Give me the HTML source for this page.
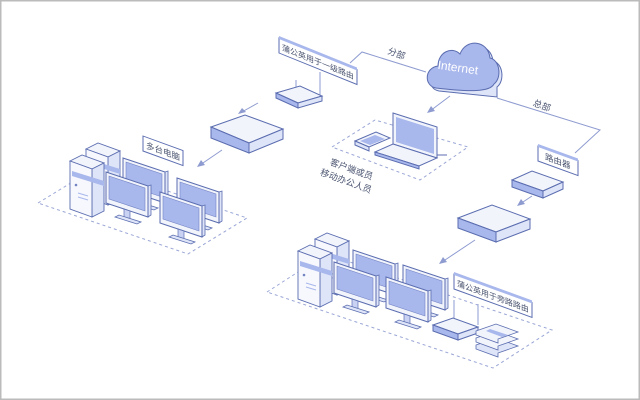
<!DOCTYPE html>
<html><head><meta charset="utf-8"><style>
html,body{margin:0;padding:0;background:#fff}
svg{display:block}
text{font-family:"Liberation Sans","Noto Sans CJK SC",sans-serif;fill:#4a5470}
</style></head><body>
<svg width="640" height="400" viewBox="0 0 640 400" xmlns="http://www.w3.org/2000/svg">
<defs>
<g id="mon">
<polygon points="42,14 45,13 45,43 42,45" fill="#dfe5f8" stroke="#5b6db0" stroke-width="0.8"/>
<polygon points="0,0 42,14 42,45 0,31" fill="#f2f4fc" stroke="#5b6db0" stroke-width="1"/>
<polygon points="3,4 39,16 39,39 3,27" fill="#a8b7ec" stroke="#7384c4" stroke-width="0.6"/>
<polygon points="18,37 24,39 24,48 18,46" fill="#c9d2f3" stroke="#5b6db0" stroke-width="0.7"/>
<polygon points="9,45 31,52 35,50 13,43" fill="#dfe5f8" stroke="#5b6db0" stroke-width="0.8"/>
</g>
<g id="srv">
<polygon points="0,8 12,2 34,10 22,16" fill="#f2f4fc" stroke="#5b6db0" stroke-width="0.9"/>
<polygon points="22,16 34,10 34,58 22,64" fill="#dfe5f8" stroke="#5b6db0" stroke-width="0.9"/>
<polygon points="0,8 22,16 22,64 0,56" fill="#f7f8fd" stroke="#5b6db0" stroke-width="0.9"/>
<polygon points="2,18 34,28 34,33 2,23" fill="#a8b7ec"/>
<circle cx="6" cy="32" r="1.3" fill="#7384c4"/>
<line x1="8" y1="40" x2="18" y2="43" stroke="#a8b7ec"/>
<line x1="8" y1="44" x2="18" y2="47" stroke="#a8b7ec"/>
</g>
</defs>
<rect x="0.5" y="0.5" width="639" height="399" fill="#fff" stroke="#bbbbbb" stroke-width="2"/>

<g stroke="#8e9bd0" stroke-width="1" fill="none">
<polyline points="350,63 362,52 426,72"/>
<polyline points="497,98 600,130 575,153"/>
<line x1="296" y1="80" x2="296" y2="92"/>
<line x1="320" y1="72" x2="320" y2="98"/>
<line x1="258" y1="103" x2="240" y2="113"/>
<line x1="222" y1="150" x2="200" y2="165"/>
<line x1="450" y1="96" x2="430" y2="111"/>
<line x1="532" y1="196" x2="520" y2="204"/>
<line x1="475" y1="240" x2="442" y2="262"/>
<line x1="454" y1="300" x2="454" y2="320"/>
<line x1="478" y1="304" x2="478" y2="325"/>
</g>
<g fill="#8e9bd0">
<polygon points="238,114 246,112 242,108"/>
<polygon points="197,167 205,165 201,160"/>
<polygon points="427,113 435,111 431,106"/>
<polygon points="517,206 525,204 521,199"/>
<polygon points="439,264 447,262 443,257"/>
</g>

<g fill="none" stroke="#9aa6d6" stroke-dasharray="3,3" stroke-width="1">
<polygon points="38,203 97,167 247,218 188,254"/>
<polygon points="332,147 375,120 468,147 420,180"/>
<polygon points="267,292 326,254 552,330 493,368"/>
</g>

<g>
<path d="M436,88 C424,86 424,68 438,66 C438,52 452,46 460,54 C466,38 488,40 490,58 C500,60 502,78 494,84 L494,94 Z" fill="#dfe5f8" stroke="#5b6db0" transform="translate(3,3)"/>
<path d="M436,88 C424,86 424,68 438,66 C438,52 452,46 460,54 C466,38 488,40 490,58 C500,60 502,78 494,84 C490,92 470,92 436,88 Z" fill="#a8b7ec" stroke="#5b6db0"/>
<text x="437" y="72" font-size="12" style="fill:#fff" transform="rotate(8 460 72)">Internet</text>
</g>

<polygon points="276,93 300,86 322,96 298,103" fill="#f2f4fc" stroke="#5b6db0"/>
<polygon points="276,93 298,103 298,108 276,98" fill="#a8b7ec" stroke="#5b6db0"/>
<polygon points="298,103 322,96 322,101 298,108" fill="#dfe5f8" stroke="#5b6db0"/>

<g transform="translate(279,38) skewY(22)">
<rect x="0" y="0" width="78" height="15" fill="#fff" stroke="#5b6db0"/>
<rect x="0" y="-2" width="78" height="3" fill="#a8b7ec"/>
<text x="3" y="11" font-size="8">蒲公英用于一级路由</text>
</g>
<text x="388" y="56" font-size="9" transform="rotate(20 395 52)">分部</text>
<text x="533" y="108" font-size="9" transform="rotate(20 540 105)">总部</text>

<polygon points="211,127 245,115 283,129 249,143" fill="#f2f4fc" stroke="#5b6db0"/>
<polygon points="211,127 249,143 249,153 211,138" fill="#a8b7ec" stroke="#5b6db0"/>
<polygon points="249,143 283,129 283,139 249,153" fill="#dfe5f8" stroke="#5b6db0"/>

<use href="#srv" x="86" y="141"/>
<use href="#srv" x="70" y="153"/>
<use href="#mon" x="123" y="158"/>
<use href="#mon" x="106" y="172"/>
<use href="#mon" x="177" y="178"/>
<use href="#mon" x="160" y="192"/>
<g transform="translate(143,136) skewY(20)">
<rect x="0" y="0" width="40" height="15" fill="#fff" stroke="#5b6db0"/>
<text x="3" y="11" font-size="8.5">多台电脑</text>
</g>

<polygon points="355,141 376,132 390,138 369,147" fill="#f2f4fc" stroke="#5b6db0"/>
<polygon points="360,141 375,135 385,139 370,145" fill="#a8b7ec"/>
<polygon points="355,141 369,147 369,151 355,145" fill="#dfe5f8" stroke="#5b6db0"/>
<polygon points="393,113 437,127 437,158 393,144" fill="#f2f4fc" stroke="#5b6db0"/>
<polygon points="396,117 434,129 434,154 396,142" fill="#a8b7ec"/>
<polygon points="375,152 393,144 437,158 419,166" fill="#f2f4fc" stroke="#5b6db0"/>
<polygon points="375,152 419,166 419,169 375,155" fill="#a8b7ec" stroke="#5b6db0"/>
<line x1="437" y1="155" x2="447" y2="155" stroke="#5b6db0"/>
<text x="328" y="172" font-size="9" transform="rotate(20 350 172)">客户端或员</text>
<text x="318" y="184" font-size="9" transform="rotate(20 345 184)">移动办公人员</text>

<g transform="translate(538,146) skewY(20)">
<rect x="0" y="0" width="40" height="15" fill="#fff" stroke="#5b6db0"/>
<rect x="0" y="-2" width="40" height="3" fill="#a8b7ec"/>
<text x="7" y="11" font-size="8.5">路由器</text>
</g>
<polygon points="512,180 532,171 563,182 543,191" fill="#f2f4fc" stroke="#5b6db0"/>
<polygon points="512,180 543,191 543,198 512,187" fill="#a8b7ec" stroke="#5b6db0"/>
<polygon points="543,191 563,182 563,189 543,198" fill="#dfe5f8" stroke="#5b6db0"/>

<polygon points="458,218 492,205 530,219 496,232" fill="#f2f4fc" stroke="#5b6db0"/>
<polygon points="458,218 496,232 496,242 458,228" fill="#a8b7ec" stroke="#5b6db0"/>
<polygon points="496,232 530,219 530,229 496,242" fill="#dfe5f8" stroke="#5b6db0"/>

<use href="#srv" x="315" y="231"/>
<use href="#srv" x="298" y="243"/>
<use href="#mon" x="353" y="250"/>
<use href="#mon" x="334" y="262"/>
<use href="#mon" x="403" y="265"/>
<use href="#mon" x="386" y="277"/>
<g transform="translate(454,274) skewY(20)">
<rect x="0" y="0" width="78" height="15" fill="#fff" stroke="#5b6db0"/>
<rect x="0" y="-2" width="78" height="3" fill="#a8b7ec"/>
<text x="3" y="11" font-size="8">蒲公英用于旁路路由</text>
</g>
<polygon points="433,325 453,318 478,327 458,334" fill="#f2f4fc" stroke="#5b6db0"/>
<polygon points="433,325 458,334 458,340 433,331" fill="#a8b7ec" stroke="#5b6db0"/>
<polygon points="458,334 478,327 478,333 458,340" fill="#dfe5f8" stroke="#5b6db0"/>
<g stroke="#5b6db0" stroke-width="0.8">
<polygon points="476,345 496,338 518,346 498,353 498,357 476,349" fill="#dfe5f8"/>
<polygon points="476,338 496,331 518,339 498,346 498,350 476,342" fill="#f2f4fc"/>
<polygon points="476,331 496,324 518,332 498,339 498,343 476,335" fill="#f2f4fc"/>
<polygon points="490,329 508,335 502,337 486,331" fill="#a8b7ec" stroke="none"/>
</g>
</svg>
</body></html>
